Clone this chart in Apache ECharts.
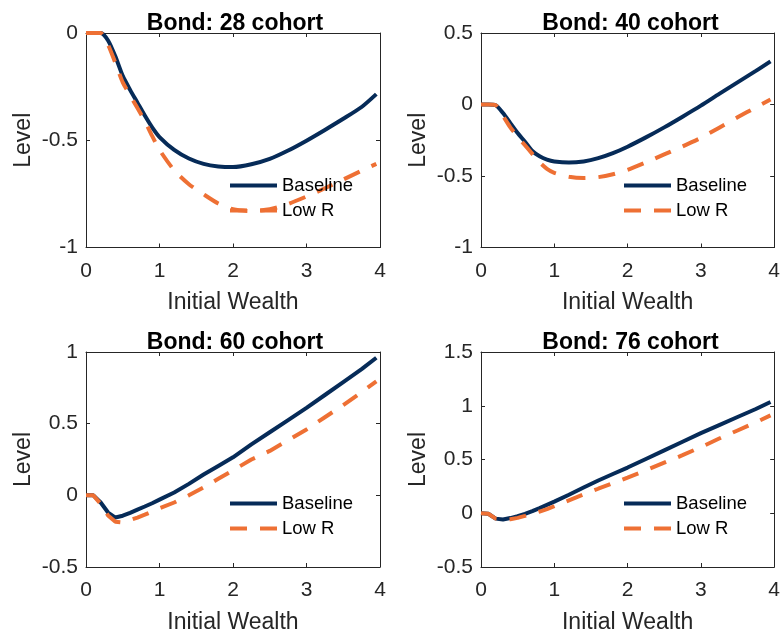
<!DOCTYPE html>
<html>
<head>
<meta charset="utf-8">
<script src="https://cdn.jsdelivr.net/npm/echarts@6/dist/echarts.min.js"></script>
<style>
html,body{margin:0;padding:0;background:#fff;}
#chart{width:783px;height:639px;}
</style>
</head>
<body>
<div id="chart"></div>
<script>
// ---- data ----
const wealth = [0, 0.1, 0.2, 0.3, 0.4, 0.5, 0.6, 0.7, 0.8, 0.9, 1.0, 1.2, 1.4, 1.6, 1.8, 2.0, 2.25, 2.5, 2.75, 3.0, 3.25, 3.5, 3.75, 3.95];

const base28 = [0, 0, 0, -0.035, -0.11, -0.2, -0.265, -0.325, -0.385, -0.44, -0.485, -0.545, -0.585, -0.61, -0.622, -0.625, -0.612, -0.587, -0.548, -0.502, -0.452, -0.4, -0.345, -0.285];
const lowR28 = [0, 0, 0, -0.055, -0.14, -0.23, -0.29, -0.35, -0.41, -0.48, -0.545, -0.64, -0.705, -0.752, -0.795, -0.822, -0.83, -0.822, -0.797, -0.762, -0.724, -0.683, -0.642, -0.61];

const base40 = [0, 0, -0.005, -0.06, -0.13, -0.2, -0.26, -0.325, -0.362, -0.385, -0.398, -0.406, -0.398, -0.375, -0.34, -0.295, -0.23, -0.16, -0.085, -0.008, 0.074, 0.155, 0.235, 0.302];
const lowR40 = [0, 0, -0.005, -0.08, -0.16, -0.225, -0.285, -0.345, -0.405, -0.45, -0.478, -0.505, -0.514, -0.508, -0.488, -0.457, -0.405, -0.349, -0.293, -0.233, -0.162, -0.09, -0.02, 0.035];

const base60 = [0, 0, -0.05, -0.12, -0.155, -0.142, -0.122, -0.1, -0.078, -0.055, -0.03, 0.02, 0.08, 0.145, 0.205, 0.265, 0.355, 0.44, 0.525, 0.61, 0.7, 0.79, 0.88, 0.96];
const lowR60 = [0, 0, -0.06, -0.14, -0.185, -0.19, -0.172, -0.155, -0.135, -0.113, -0.09, -0.05, 0.0, 0.055, 0.115, 0.175, 0.25, 0.31, 0.385, 0.46, 0.545, 0.63, 0.72, 0.795];

const base76 = [0, -0.005, -0.05, -0.058, -0.045, -0.028, -0.005, 0.02, 0.048, 0.078, 0.108, 0.172, 0.24, 0.305, 0.365, 0.425, 0.505, 0.585, 0.665, 0.745, 0.82, 0.895, 0.97, 1.035];
const lowR76 = [0, -0.005, -0.05, -0.058, -0.055, -0.043, -0.025, -0.005, 0.016, 0.038, 0.065, 0.12, 0.175, 0.228, 0.28, 0.332, 0.4, 0.47, 0.54, 0.615, 0.695, 0.77, 0.845, 0.91];

const titles = ['Bond: 28 cohort', 'Bond: 40 cohort', 'Bond: 60 cohort', 'Bond: 76 cohort'];
const seriesNames = ['Baseline', 'Low R'];
const xRange = [0, 4];
const yRanges = [[-1, 0], [-1, 0.5], [-0.5, 1], [-0.5, 1.5]];
const tickStep = [1, 0.5];
const xLabel = 'Initial Wealth';
const yLabel = 'Level';

const panelData = [[base28, lowR28], [base40, lowR40], [base60, lowR60], [base76, lowR76]];

// ---- layout / style ----
const FONT = '"Liberation Sans", Arial, Helvetica, sans-serif';
const AX = '#262626';
const NAVY = '#062b58';
const ORANGE = '#ee7034';
const grids = [
  {left: 86, top: 33, width: 294, height: 214.5},
  {left: 481, top: 33, width: 295, height: 214.5},
  {left: 86, top: 352, width: 294, height: 215},
  {left: 481, top: 352, width: 295, height: 215}
];
const smoothPanel = [0.25, 0.25, false, false];

const chart = echarts.init(document.getElementById('chart'), null, {renderer: 'canvas'});

const option = {
  animation: false,
  backgroundColor: '#fff',
  textStyle: {fontFamily: FONT},
  title: [], grid: [], xAxis: [], yAxis: [], series: [], legend: []
};

grids.forEach((g, i) => {
  option.grid.push({left: g.left, top: g.top, width: g.width, height: g.height, containLabel: false,
    show: false});
  option.title.push({
    text: titles[i], left: g.left + g.width / 2 - 3, top: g.top - 26, textAlign: 'center',
    textStyle: {fontFamily: FONT, fontSize: 23, fontWeight: 'bold', color: '#000'}
  });
  const axLine = {show: true, onZero: false, lineStyle: {color: AX, width: 1}};
  const tick = {show: true, inside: true, length: 4, lineStyle: {color: AX, width: 1}};
  option.xAxis.push({
    type: 'value', gridIndex: i, min: xRange[0], max: xRange[1], interval: tickStep[0],
    position: 'bottom', axisLine: axLine, axisTick: tick, splitLine: {show: false},
    axisLabel: {fontFamily: FONT, fontSize: 21, color: AX, margin: 13},
    name: xLabel, nameLocation: 'middle', nameGap: 44,
    nameTextStyle: {fontFamily: FONT, fontSize: 23, color: AX}
  });
  option.xAxis.push({
    type: 'value', gridIndex: i, min: xRange[0], max: xRange[1], interval: tickStep[0],
    position: 'top', axisLine: axLine, axisTick: tick, splitLine: {show: false},
    axisLabel: {show: false}
  });
  const yr = yRanges[i];
  option.yAxis.push({
    type: 'value', gridIndex: i, min: yr[0], max: yr[1], interval: tickStep[1],
    position: 'left', axisLine: axLine, axisTick: tick, splitLine: {show: false},
    axisLabel: {fontFamily: FONT, fontSize: 21, color: AX, margin: 8},
    name: yLabel, nameLocation: 'middle', nameGap: 51, nameRotate: 90,
    nameTextStyle: {fontFamily: FONT, fontSize: 23, color: AX}
  });
  option.yAxis.push({
    type: 'value', gridIndex: i, min: yr[0], max: yr[1], interval: tickStep[1],
    position: 'right', axisLine: axLine, axisTick: tick, splitLine: {show: false},
    axisLabel: {show: false}
  });
  const [b, l] = panelData[i];
  option.series.push({
    name: seriesNames[0], type: 'line', xAxisIndex: 2 * i, yAxisIndex: 2 * i,
    data: wealth.map((x, k) => [x, b[k]]), symbol: 'none', smooth: smoothPanel[i],
    lineStyle: {color: NAVY, width: 4}, itemStyle: {color: NAVY}, z: 2
  });
  option.series.push({
    name: seriesNames[1], type: 'line', xAxisIndex: 2 * i, yAxisIndex: 2 * i,
    data: wealth.map((x, k) => [x, l[k]]), symbol: 'none', smooth: smoothPanel[i],
    lineStyle: {color: ORANGE, width: 4, type: [17, 13]}, itemStyle: {color: ORANGE}, z: 3
  });
  const right = i % 2 === 1;
  option.legend.push({
    data: seriesNames, orient: 'vertical', selectedMode: false,
    left: g.left + (right ? 141 : 142), top: g.top + (i < 2 ? 143 : 142),
    padding: 0, itemGap: 6, itemWidth: 47, itemHeight: 14,
    lineStyle: {width: 4},
    itemStyle: {opacity: 0, color: 'transparent', borderColor: 'transparent', borderWidth: 0},
    textStyle: {fontFamily: FONT, fontSize: 18.5, color: '#000'}
  });
});

chart.setOption(option);
</script>
</body>
</html>
